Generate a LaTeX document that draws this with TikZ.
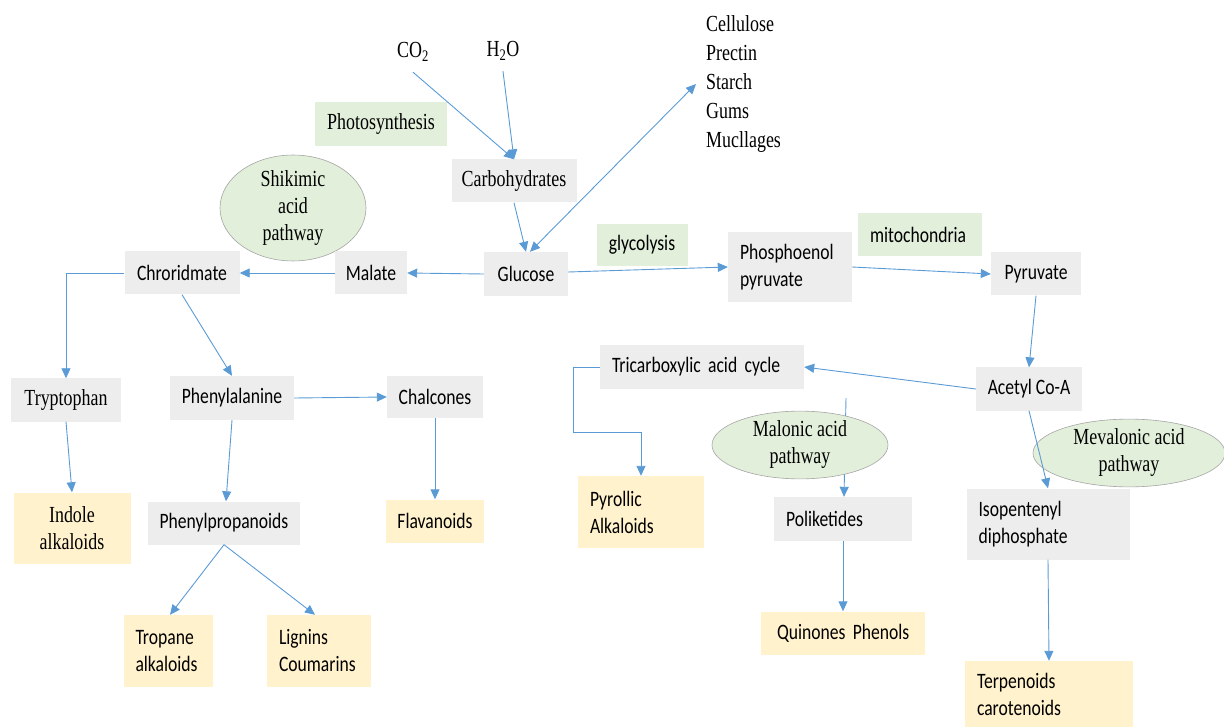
\documentclass[tikz,border=0pt]{standalone}
\usepackage{fontspec}
\usepackage{xcolor}
\usepackage{tikz}
\usetikzlibrary{shapes,arrows.meta,backgrounds}

\setmainfont{Liberation Serif}[FakeStretch=0.78]
\newfontfamily\calibrifont{Carlito}[FakeStretch=0.8]
\newcommand{\sansbox}{\calibrifont\fontsize{22}{27}\selectfont}
\newcommand{\serifbox}{\rmfamily\fontsize{23}{27}\selectfont}

\definecolor{boxgray}{HTML}{EDEDED}
\definecolor{boxgreen}{HTML}{E2EFDA}
\definecolor{boxyellow}{HTML}{FFF2CC}
\definecolor{arrowblue}{HTML}{5B9BD5}
\definecolor{ringgray}{HTML}{A6A6A6}

\begin{document}
\begin{tikzpicture}[
    x=1pt, y=-1pt,
    sz/.style 2 args={minimum width=#1pt, minimum height=#2pt},
    step box/.style={rectangle, fill=boxgray, inner sep=0pt, align=center, font=\sansbox},
    end box/.style={step box, fill=boxyellow},
    site box/.style={step box, fill=boxgreen},
    lft/.style={align=left, text width=#1pt, inner xsep=12pt},
    path ellipse/.style={ellipse, draw=ringgray, line width=0.6pt, fill=boxgreen, inner sep=0pt, align=center, font=\serifbox},
    plain/.style={inner sep=0pt, minimum height=40pt, font=\serifbox},
    flow/.style={draw=arrowblue, line width=0.9pt, -{Triangle[length=10pt,width=9pt]}},
    flow2/.style={draw=arrowblue, line width=0.9pt, {Triangle[length=10pt,width=9pt]}-{Triangle[length=10pt,width=9pt]}}
]
    \useasboundingbox (0,0) rectangle (1224,727);

    \node[plain] (co2) at (413,52) {CO\textsubscript{2}};
    \node[plain] (h2o) at (503,51) {H\textsubscript{2}O};
    \node[plain, anchor=west, align=left, inner xsep=10pt, font=\rmfamily\fontsize{23}{28.8}\selectfont] (poly) at (696,84) {Cellulose\\Prectin\\Starch\\Gums\\Mucllages};
    \node[site box, sz={132}{44}, font=\serifbox] (photo) at (381,124) {Photosynthesis};
    \node[step box, sz={125}{43}, font=\serifbox] (carb) at (514,181) {Carbohydrates};
    \node[path ellipse, sz={146}{87}] (shik) at (293,208) {Shikimic\\acid\\pathway};

    \node[step box, sz={115}{43}] (chor) at (182,273) {Chroridmate};
    \node[step box, sz={72}{43}] (malate) at (371,273) {Malate};
    \node[step box, sz={84}{44}] (glucose) at (526,274) {Glucose};
    \node[site box, sz={91}{42}] (glyco) at (642,245) {glycolysis};
    \node[step box, sz={124}{70}, lft=100] (phos) at (790,267) {Phosphoenol\\pyruvate};
    \node[site box, sz={124}{43}, lft=100] (mito) at (920,235) {mitochondria};
    \node[step box, sz={90}{43}] (pyr) at (1036,274) {Pyruvate};

    \node[step box, sz={106}{43}] (acetyl) at (1029,389) {Acetyl Co-A};
    \node[step box, sz={204}{43}, lft=180] (tca) at (702,367) {Tricarboxylic acid cycle};
    \node[step box, sz={110}{43}, font=\serifbox] (tryp) at (66,400) {Tryptophan};
    \node[step box, sz={124}{44}] (phenyl) at (232,398) {Phenylalanine};
    \node[step box, sz={96}{42}] (chal) at (435,397) {Chalcones};

    \node[end box, sz={117}{71}, font=\serifbox] (indole) at (72,528) {Indole\\alkaloids};
    \node[step box, sz={152}{43}] (ppan) at (224,523) {Phenylpropanoids};
    \node[end box, sz={98}{43}] (flav) at (435,521) {Flavanoids};
    \node[end box, sz={89}{72}, lft=65] (tropane) at (168,651) {Tropane\\alkaloids};
    \node[end box, sz={104}{72}, lft=80] (lignin) at (319,651) {Lignins\\Coumarins};

    \node[end box, sz={126}{72}, lft=102] (pyrol) at (641,512) {Pyrollic\\Alkaloids};
    \node[path ellipse, sz={176}{60}] (malonic) at (800,445) {Malonic acid\\pathway};
    \node[path ellipse, sz={192}{62}] (meva) at (1129,453) {Mevalonic acid\\pathway};
    \node[step box, sz={138}{44}, lft=114] (poli) at (843,519) {Poliketides};
    \node[step box, sz={163}{71}, lft=139] (isop) at (1048,524) {Isopentenyl\\diphosphate};
    \node[end box, sz={164}{43}, lft=144, inner xsep=10pt] (quin) at (843,633) {\hspace*{6pt}Quinones Phenols};
    \node[end box, sz={168}{66}, lft=144] (terp) at (1049,694) {Terpenoids\\carotenoids};

    \coordinate (malstart) at (846,398);
    \coordinate (tcaturn) at (573,432);

    \draw[flow] (co2.south) -- (carb.north);
    \draw[flow] (h2o.south) -- (carb.north);
    \draw[flow] (carb.south) -- (glucose.north);
    \draw[flow2] ([xshift=4pt]glucose.north) -- (poly.west);
    \draw[flow] (glucose.west) -- (malate.east);
    \draw[flow] (malate.west) -- (chor.east);
    \draw[flow] ([yshift=2pt]glucose.east) -- (phos.west);
    \draw[flow] (phos.east) -- (pyr.west);
    \draw[flow] (pyr.south) -- (acetyl.north);
    \draw[flow] (acetyl.west) -- (tca.east);
    \draw[flow] (tca.west) -| (tcaturn) -| (pyrol.north);
    \begin{scope}[on background layer]
        \draw[flow] (malstart) -- ([xshift=1pt]poli.north);
    \end{scope}
    \draw[flow] (acetyl.south) -- (isop.north);
    \draw[flow] (poli.south) -- (quin.north);
    \draw[flow] (isop.south) -- (terp.north);

    \draw[flow] (chor.west) -| (tryp.north);
    \draw[flow] (chor.south) -- (phenyl.north);
    \draw[flow] (phenyl.east) -- (chal.west);
    \draw[flow] (tryp.south) -- (indole.north);
    \draw[flow] (phenyl.south) -- ([xshift=2pt]ppan.north);
    \draw[flow] (chal.south) -- (flav.north);
    \draw[flow] (ppan.south) -- ([xshift=2pt]tropane.north);
    \draw[flow] (ppan.south) -- ([xshift=-4pt]lignin.north);
\end{tikzpicture}
\end{document}
